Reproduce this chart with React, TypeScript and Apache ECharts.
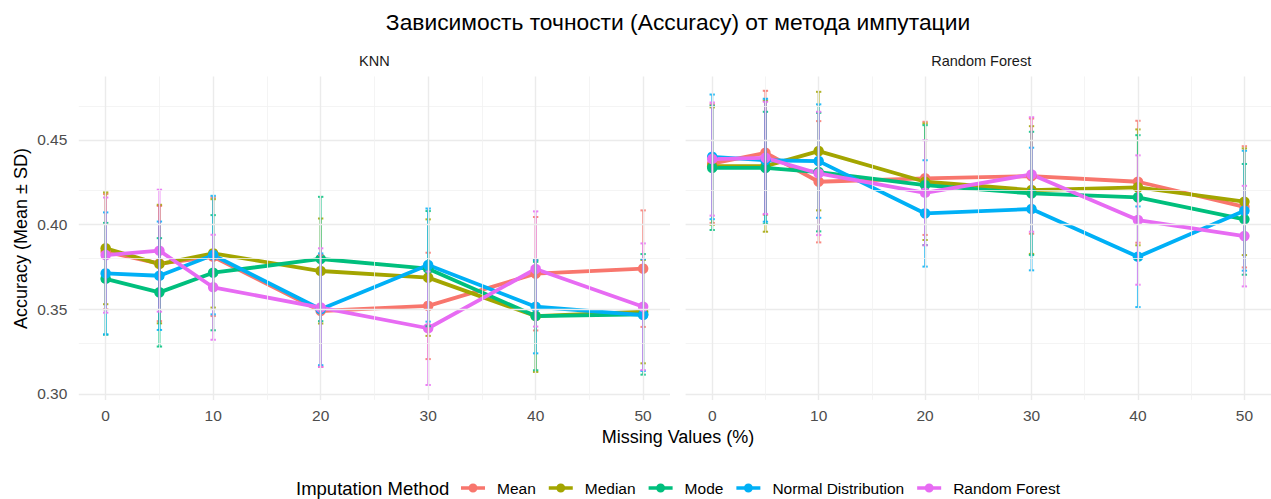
import React, { useEffect, useRef } from 'react';
import * as echarts from 'echarts';

const missingPct = [0, 5, 10, 20, 30, 40, 50];
const methods = ['Mean', 'Median', 'Mode', 'Normal Distribution', 'Random Forest'];
const methodColors = ['#F8766D', '#A3A500', '#00BF7D', '#00B0F6', '#E76BF3'];
const panelNames = ['KNN', 'Random Forest'];
const yTicks = [0.3, 0.35, 0.4, 0.45];
const yMinor = [0.325, 0.375, 0.425, 0.475];
const xTicks = [0, 10, 20, 30, 40, 50];
const xMinor = [5, 15, 25, 35, 45];

// KNN panel: mean accuracy per method
const knnMeanMean = [0.384, 0.377, 0.381, 0.349, 0.352, 0.371, 0.374];
const knnMedianMean = [0.386, 0.3767, 0.383, 0.3726, 0.3687, 0.346, 0.3486];
const knnModeMean = [0.368, 0.36, 0.3716, 0.3797, 0.374, 0.346, 0.347];
const knnNormalMean = [0.3712, 0.3698, 0.382, 0.35, 0.3761, 0.3515, 0.3466];
const knnRfMean = [0.382, 0.3846, 0.363, 0.351, 0.3388, 0.3738, 0.3515];
// KNN panel: standard deviations
const knnMeanSd = [0.034, 0.034, 0.035, 0.033, 0.0314, 0.0335, 0.0344];
const knnMedianSd = [0.033, 0.035, 0.032, 0.031, 0.0344, 0.033, 0.0305];
const knnModeSd = [0.033, 0.032, 0.034, 0.0367, 0.034, 0.032, 0.0356];
const knnNormalSd = [0.036, 0.032, 0.035, 0.033, 0.0334, 0.0275, 0.033];
const knnRfSd = [0.034, 0.036, 0.031, 0.035, 0.0335, 0.034, 0.0374];

// Random Forest panel: mean accuracy per method
const rfMeanMean = [0.436, 0.4424, 0.4253, 0.4273, 0.4286, 0.4253, 0.4105];
const rfMedianMean = [0.4345, 0.4345, 0.4434, 0.4253, 0.4204, 0.422, 0.4135];
const rfModeMean = [0.4335, 0.4335, 0.431, 0.4233, 0.4184, 0.4161, 0.4031];
const rfNormalMean = [0.44, 0.438, 0.4375, 0.4066, 0.4092, 0.381, 0.4082];
const rfRfMean = [0.4387, 0.4394, 0.4302, 0.4188, 0.4296, 0.4027, 0.3932];
// Random Forest panel: standard deviations
const rfMeanSd = [0.035, 0.0366, 0.0358, 0.0334, 0.034, 0.036, 0.0358];
const rfMedianSd = [0.0347, 0.0387, 0.035, 0.0344, 0.0377, 0.0342, 0.0315];
const rfModeSd = [0.0367, 0.0331, 0.035, 0.0354, 0.0364, 0.0367, 0.0327];
const rfNormalSd = [0.0368, 0.0363, 0.0335, 0.0314, 0.0362, 0.0297, 0.0354];
const rfRfSd = [0.0334, 0.0331, 0.0364, 0.031, 0.0338, 0.0382, 0.0297];

const panelMeans = [
  [knnMeanMean, knnMedianMean, knnModeMean, knnNormalMean, knnRfMean],
  [rfMeanMean, rfMedianMean, rfModeMean, rfNormalMean, rfRfMean],
];
const panelSds = [
  [knnMeanSd, knnMedianSd, knnModeSd, knnNormalSd, knnRfSd],
  [rfMeanSd, rfMedianSd, rfModeSd, rfNormalSd, rfRfSd],
];

const FONT = "'Liberation Sans', Arial, sans-serif";
const LEGEND_ICON =
  'path://M0,3.3h24v3.4H0z M12,0.5a4.5,4.5 0 1,1 0,9a4.5,4.5 0 1,1 0,-9z';

function buildOption() {
  const grids = [
    { left: 78.8, top: 76.4, width: 591.2, height: 323.5 },
    { left: 685.6, top: 76.4, width: 591.2, height: 323.5 },
  ];
  const xAxes = grids.map((_, p) => ({
    type: 'value',
    gridIndex: p,
    min: -2.5,
    max: 52.5,
    axisLine: { show: false },
    axisTick: { show: false },
    splitLine: { show: false },
    axisLabel: {
      customValues: xTicks,
      formatter: (v: number) => String(v),
      color: '#4D4D4D',
      fontSize: 15.5,
      fontFamily: FONT,
      margin: 8,
    },
  }));
  const yAxes = grids.map((_, p) => ({
    type: 'value',
    gridIndex: p,
    min: 0.2965,
    max: 0.4875,
    axisLine: { show: false },
    axisTick: { show: false },
    splitLine: { show: false },
    axisLabel: {
      show: p === 0,
      customValues: yTicks,
      formatter: (v: number) => v.toFixed(2),
      color: '#4D4D4D',
      fontSize: 15.5,
      fontFamily: FONT,
      margin: 11.5,
    },
  }));

  const series: any[] = [];
  panelNames.forEach((_, p) => {
    const gridLines: any[] = [];
    yTicks.forEach((v) => gridLines.push({ yAxis: v, lineStyle: { color: '#EBEBEB', width: 1.4, type: 'solid' } }));
    yMinor.forEach((v) => gridLines.push({ yAxis: v, lineStyle: { color: '#F1F1F1', width: 0.8, type: 'solid' } }));
    xTicks.forEach((v) => gridLines.push({ xAxis: v, lineStyle: { color: '#EBEBEB', width: 1.4, type: 'solid' } }));
    xMinor.forEach((v) => gridLines.push({ xAxis: v, lineStyle: { color: '#F1F1F1', width: 0.8, type: 'solid' } }));
    series.push({
      type: 'scatter',
      name: 'grid' + p,
      xAxisIndex: p,
      yAxisIndex: p,
      data: [],
      silent: true,
      z: 1,
      markLine: {
        silent: true,
        symbol: ['none', 'none'],
        label: { show: false },
        animation: false,
        data: gridLines,
      },
    });
    methods.forEach((m, k) => {
      const means = panelMeans[p][k];
      const color = methodColors[k];
      series.push({
        type: 'line',
        name: m,
        xAxisIndex: p,
        yAxisIndex: p,
        data: missingPct.map((x, i) => [x, means[i]]),
        symbol: 'none',
        showSymbol: false,
        color,
        lineStyle: { color, width: 3.8 },
        z: 2,
        silent: true,
      });
    });
    methods.forEach((m, k) => {
      const means = panelMeans[p][k];
      const color = methodColors[k];
      series.push({
        type: 'scatter',
        name: m,
        xAxisIndex: p,
        yAxisIndex: p,
        data: missingPct.map((x, i) => [x, means[i]]),
        symbol: 'circle',
        symbolSize: 10.5,
        itemStyle: { color, opacity: 1 },
        z: 3,
        silent: true,
      });
    });
    methods.forEach((m, k) => {
      const means = panelMeans[p][k];
      const sds = panelSds[p][k];
      const color = methodColors[k];
      series.push({
        type: 'custom',
        name: m,
        xAxisIndex: p,
        yAxisIndex: p,
        z: 4,
        silent: true,
        encode: { x: 0, y: [1, 2] },
        data: missingPct.map((x, i) => [x, means[i] - sds[i], means[i] + sds[i]]),
        renderItem: (params: any, api: any) => {
          const x = api.value(0);
          const lo = api.coord([x, api.value(1)]);
          const hi = api.coord([x, api.value(2)]);
          const half = api.coord([x + 0.25, api.value(1)])[0] - lo[0];
          const st = { stroke: color, lineWidth: 2, opacity: 0.85 };
          return {
            type: 'group',
            children: [
              { type: 'line', shape: { x1: lo[0], y1: lo[1], x2: hi[0], y2: hi[1] }, style: st },
              { type: 'line', shape: { x1: lo[0] - half, y1: lo[1], x2: lo[0] + half, y2: lo[1] }, style: st },
              { type: 'line', shape: { x1: hi[0] - half, y1: hi[1], x2: hi[0] + half, y2: hi[1] }, style: st },
            ],
          };
        },
      });
    });
  });

  const texts: any[] = [
    {
      type: 'text',
      x: 678,
      y: 22,
      style: {
        text: 'Зависимость точности (Accuracy) от метода импутации',
        fontSize: 22.8,
        fontFamily: FONT,
        fill: '#000000',
        align: 'center',
        verticalAlign: 'middle',
      },
    },
    {
      type: 'text',
      x: 678,
      y: 437,
      style: {
        text: 'Missing Values (%)',
        fontSize: 18,
        fontFamily: FONT,
        fill: '#000000',
        align: 'center',
        verticalAlign: 'middle',
      },
    },
    {
      type: 'text',
      x: 20.5,
      y: 238.5,
      rotation: Math.PI / 2,
      style: {
        text: 'Accuracy (Mean ± SD)',
        fontSize: 18,
        fontFamily: FONT,
        fill: '#000000',
        align: 'center',
        verticalAlign: 'middle',
      },
    },
    {
      type: 'text',
      x: 296,
      y: 488.5,
      style: {
        text: 'Imputation Method',
        fontSize: 18.5,
        fontFamily: FONT,
        fill: '#000000',
        align: 'left',
        verticalAlign: 'middle',
      },
    },
  ];
  panelNames.forEach((name, p) => {
    texts.push({
      type: 'text',
      x: grids[p].left + grids[p].width / 2,
      y: 61,
      style: {
        text: name,
        fontSize: 14.5,
        fontFamily: FONT,
        fill: '#1A1A1A',
        align: 'center',
        verticalAlign: 'middle',
      },
    });
  });

  return {
    animation: false,
    backgroundColor: '#FFFFFF',
    grid: grids,
    xAxis: xAxes,
    yAxis: yAxes,
    legend: {
      left: 461,
      top: 480,
      padding: 0,
      orient: 'horizontal',
      itemWidth: 24,
      itemHeight: 10,
      itemGap: 13,
      selectedMode: false,
      data: methods.map((m, k) => ({ name: m, icon: LEGEND_ICON, itemStyle: { color: methodColors[k] } })),
      textStyle: {
        fontSize: 15.5,
        fontFamily: FONT,
        color: '#000000',
        padding: [0, 0, 0, 7],
      },
    },
    graphic: texts,
    series,
  };
}

export default function App() {
  const ref = useRef<HTMLDivElement>(null);
  useEffect(() => {
    if (!ref.current) return;
    const chart = echarts.init(ref.current, null, { renderer: 'svg' });
    chart.setOption(buildOption() as any);
    return () => chart.dispose();
  }, []);
  return (
    <div
      ref={ref}
      style={{ position: 'fixed', left: 0, top: 0, width: 1271, height: 499, background: '#fff' }}
    />
  );
}
